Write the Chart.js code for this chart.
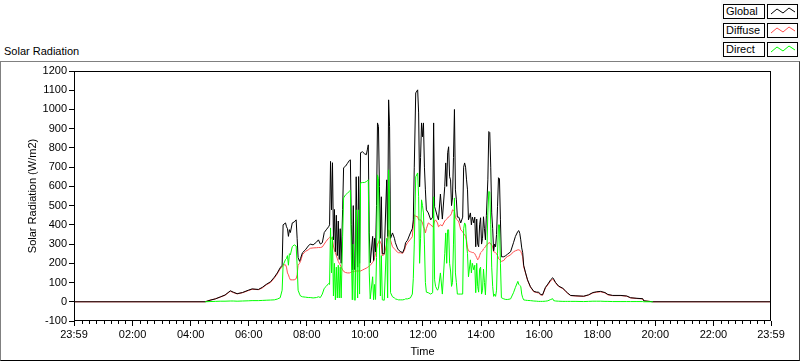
<!DOCTYPE html>
<html lang="en">
<head>
    <meta charset="UTF-8">
    <title>Solar Radiation</title>
    <script src="https://cdn.jsdelivr.net/npm/chart.js"></script>
    <style>
        body {
            margin: 0;
            padding: 0;
            background-color: #ffffff;
            font-family: "Liberation Sans", Arial, sans-serif;
            font-size: 11px;
            color: #000;
        }

        .wrap {
            position: relative;
            width: 800px;
            height: 361px;
            overflow: hidden;
        }

        .frame {
            position: absolute;
            left: 0;
            top: 61px;
            width: 798px;
            height: 298px;
            border-top: 1px solid #808080;
            border-left: 1px solid #808080;
            border-right: 1px solid #404040;
            border-bottom: 1px solid #000;
        }

        .caption {
            position: absolute;
            left: 4px;
            top: 45px;
            color: #000;
        }

        .legend {
            position: absolute;
            left: 721px;
            top: 0;
            width: 79px;
            height: 60px;
            background-color: #f7f7f7;
        }

        .legend .row {
            position: absolute;
            left: 2px;
            height: 15px;
        }

        .legend .name {
            position: absolute;
            left: 0;
            top: 0;
            width: 38px;
            height: 13px;
            line-height: 13px;
            padding-left: 2px;
            border: 1px solid #000;
            background-color: #fff;
            color: #000;
        }

        .legend .sym {
            position: absolute;
            left: 44px;
            top: 0;
            width: 29px;
            height: 13px;
            border: 1px solid #000;
            background-color: #fff;
        }

        canvas {
            position: absolute;
            left: 0;
            top: 0;
        }
    </style>
</head>
<body>

<div class="wrap">
    <div class="frame"></div>
    <div class="caption">Solar Radiation</div>
    <div class="legend" id="legend"></div>
    <canvas id="solarChart" width="800" height="361"></canvas>
</div>

<script>
    // measurement times (first 23:59 is the start of the day)
    const times = [
        '23:59','04:30','04:40','04:51','05:01','05:11','05:22','05:28','05:36','05:47',
        '05:59','06:07','06:20','06:28','06:36','06:45','06:53','06:59','07:05','07:09',
        '07:11','07:16','07:18','07:20','07:22','07:24','07:26','07:30','07:34','07:38',
        '07:40','07:42','07:45','07:47','07:51','07:57','08:03','08:07','08:13','08:20',
        '08:24','08:28','08:32','08:36','08:40','08:45','08:47','08:49','08:51','08:53',
        '08:55','08:57','08:59','09:01','09:03','09:05','09:07','09:09','09:11','09:14',
        '09:16','09:20','09:24','09:28','09:30','09:32','09:34','09:36','09:38','09:40',
        '09:42','09:45','09:47','09:49','09:51','09:55','09:59','10:03','10:05','10:07',
        '10:09','10:11','10:16','10:18','10:20','10:22','10:24','10:26','10:28','10:30',
        '10:32','10:34','10:36','10:40','10:45','10:47','10:49','10:51','10:53','10:57',
        '11:01','11:03','11:07','11:09','11:13','11:18','11:22','11:24','11:28','11:34',
        '11:38','11:40','11:42','11:45','11:49','11:51','11:53','11:55','11:57','11:59',
        '12:01','12:03','12:05','12:07','12:11','12:16','12:20','12:22','12:24','12:26',
        '12:30','12:32','12:36','12:40','12:45','12:47','12:49','12:51','12:53','12:55',
        '12:57','12:59','13:01','13:03','13:05','13:07','13:09','13:11','13:14','13:18',
        '13:22','13:24','13:26','13:28','13:30','13:32','13:34','13:38','13:40','13:42',
        '13:45','13:47','13:49','13:51','13:53','13:55','13:57','13:59','14:01','14:03',
        '14:05','14:07','14:09','14:11','14:14','14:16','14:18','14:20','14:22','14:24',
        '14:26','14:28','14:30','14:32','14:34','14:36','14:38','14:40','14:42','14:47',
        '14:51','14:55','15:01','15:07','15:11','15:16','15:18','15:20','15:22','15:24',
        '15:26','15:28','15:32','15:36','15:42','15:49','15:55','15:59','16:03','16:07',
        '16:13','16:18','16:24','16:28','16:30','16:34','16:40','16:49','16:55','16:59',
        '17:05','17:16','17:32','17:42','17:51','17:59','18:07','18:16','18:22','18:32',
        '18:49','19:01','19:09','19:22','19:34','19:36','19:55','23:59'
    ];

    const globalRad = [
        0,0,8,15,25,35,57,50,42,48,
        60,67,64,75,90,104,128,150,177,190,
        400,410,390,380,340,375,360,410,415,426,
        330,230,210,225,255,270,290,300,296,310,
        322,300,307,360,374,390,400,730,478,723,
        322,480,260,450,240,420,220,380,200,480,
        697,705,720,735,738,400,166,500,170,166,
        650,180,651,200,775,780,770,765,790,816,
        358,203,340,215,330,260,500,930,912,600,
        330,546,250,250,634,340,1050,910,330,358,
        330,307,280,270,262,255,280,307,320,358,
        380,426,700,1086,1102,982,598,750,930,858,
        930,700,582,478,462,426,440,930,494,478,
        440,426,560,430,600,722,600,775,806,650,
        634,500,540,750,1000,582,530,440,440,410,
        440,700,722,700,634,582,426,462,400,440,
        410,440,286,430,300,286,400,437,300,330,
        442,380,322,450,634,885,880,700,462,380,
        265,300,286,350,494,645,640,426,234,234,
        240,248,260,307,340,366,370,355,322,280,
        255,190,150,114,78,54,50,50,38,36,
        75,92,115,125,118,100,82,70,55,45,
        33,31,29,36,48,52,54,48,38,33,
        33,30,21,18,16,5,0,0
    ];

    const diffuseRad = [
        0,0,8,15,24,34,55,48,41,47,
        58,65,63,72,88,100,124,145,172,180,
        192,192,180,150,140,125,114,114,114,120,
        140,190,200,210,245,262,270,278,280,281,
        282,282,285,300,315,330,335,338,330,322,
        290,270,255,240,225,210,200,192,180,166,
        158,152,150,150,152,155,158,155,158,160,
        160,160,160,162,160,165,170,175,178,182,
        185,190,205,212,230,250,275,300,307,320,
        310,300,240,245,300,330,374,360,320,286,
        275,270,258,255,255,252,270,290,307,325,
        338,400,452,445,442,426,426,426,420,410,
        390,380,358,380,410,400,390,400,420,426,
        410,390,400,395,420,426,430,435,442,445,
        450,460,478,475,470,440,430,426,415,374,
        364,355,350,340,320,280,265,260,258,256,
        255,250,240,230,218,225,240,255,260,265,
        275,280,286,295,300,307,307,300,295,286,
        260,258,255,250,240,225,220,215,210,215,
        229,236,244,260,265,270,270,268,262,250,
        234,182,148,112,76,52,48,45,36,34,
        72,88,110,118,112,98,80,68,53,44,
        32,30,28,35,46,50,52,46,36,32,
        32,29,20,17,15,5,0,0
    ];

    const directRad = [
        null,0,1,2,3,3,4,4,3,4,
        5,6,6,7,8,9,10,14,21,60,
        190,220,225,240,190,250,244,287,296,290,
        190,60,40,30,26,24,22,22,20,22,
        26,22,40,70,80,95,90,384,150,338,
        30,200,10,180,20,190,20,180,20,338,
        540,556,565,574,580,240,10,300,10,8,
        478,20,478,40,618,620,620,625,630,634,
        150,15,130,10,90,12,230,660,640,300,
        30,240,10,8,330,20,686,560,47,26,
        20,15,12,10,10,10,12,15,15,20,
        40,120,300,650,670,546,200,330,530,500,
        462,300,100,50,47,40,47,546,114,80,
        60,70,150,40,250,358,200,374,374,200,
        160,80,100,300,540,150,100,40,40,40,
        40,380,410,400,300,250,130,218,150,200,
        166,190,47,200,80,50,170,180,40,60,
        170,100,36,160,462,574,570,400,180,80,
        28,40,28,60,250,400,400,200,21,15,
        12,12,15,47,75,106,90,85,80,40,
        21,10,8,7,6,4,3,2,2,2,
        3,5,12,16,6,4,3,2,2,2,
        2,2,1,2,3,3,3,2,2,1,
        1,1,1,1,1,0,0,null
    ];

    // x axis labels (every 2 hours) and y range
    const xTickLabels = ['23:59','02:00','04:00','06:00','08:00','10:00','12:00',
                         '14:00','16:00','18:00','20:00','22:00','23:59'];
    const yMin = -100, yMax = 1200, yStep = 100;

    const seriesNames = ['Global', 'Diffuse', 'Direct'];
    const seriesColors = ['#000000', '#ff4d4d', '#00ff00'];

    // minutes after midnight; the leading 23:59 belongs to the day before
    function toMinutes(t, i) {
        const parts = t.split(':').map(Number);
        const v = parts[0] * 60 + parts[1];
        return (i === 0 && v === 1439) ? -1 : v;
    }

    const xs = times.map(toMinutes);
    const xTickValues = xTickLabels.map(toMinutes);

    function points(values) {
        return values.map((v, i) => ({ x: xs[i], y: v }));
    }

    const font = { family: '"Liberation Sans", Arial, sans-serif', size: 11 };

    // chart frame and the small 15 minute ticks under the x axis
    const framePlugin = {
        id: 'frame',
        afterDraw(chart) {
            const ctx = chart.ctx;
            const a = chart.chartArea;
            const xScale = chart.scales.x;
            ctx.save();
            ctx.strokeStyle = '#000';
            ctx.lineWidth = 1;
            ctx.strokeRect(Math.round(a.left) + 0.5, Math.round(a.top) + 0.5,
                Math.round(a.right - a.left) - 1, Math.round(a.bottom - a.top) - 1);
            ctx.beginPath();
            for (let m = 15; m < 1439; m += 15) {
                if (m % 120 === 0) continue;
                const px = Math.round(xScale.getPixelForValue(m)) + 0.5;
                ctx.moveTo(px, Math.round(a.bottom));
                ctx.lineTo(px, Math.round(a.bottom) + 3);
            }
            ctx.stroke();
            ctx.restore();
        }
    };

    const chartConfig = {
        type: 'line',
        data: {
            datasets: [
                { label: seriesNames[2], data: points(directRad), borderColor: seriesColors[2], order: 0 },
                { label: seriesNames[0], data: points(globalRad), borderColor: seriesColors[0], order: 1 },
                { label: seriesNames[1], data: points(diffuseRad), borderColor: seriesColors[1], order: 2 }
            ]
        },
        options: {
            responsive: false,
            animation: false,
            events: [],
            datasets: {
                line: { borderWidth: 1, pointRadius: 0, tension: 0, fill: false, spanGaps: false }
            },
            layout: { padding: { top: 71, right: 29, left: 0, bottom: 0 } },
            plugins: {
                legend: { display: false },
                tooltip: { enabled: false }
            },
            scales: {
                x: {
                    type: 'linear',
                    min: -1,
                    max: 1439,
                    afterBuildTicks: (scale) => {
                        scale.ticks = xTickValues.map(v => ({ value: v }));
                    },
                    afterFit: (scale) => { scale.height = 40; },
                    ticks: {
                        autoSkip: false,
                        maxRotation: 0,
                        padding: 2,
                        color: '#000',
                        font: font,
                        callback: (value) => {
                            const idx = xTickValues.indexOf(value);
                            return idx >= 0 ? xTickLabels[idx] : '';
                        }
                    },
                    grid: { drawOnChartArea: false, tickLength: 5, color: '#000' },
                    border: { display: false },
                    title: {
                        display: true,
                        text: 'Time',
                        color: '#000',
                        font: font,
                        padding: { top: 0, bottom: 2 }
                    }
                },
                y: {
                    min: yMin,
                    max: yMax,
                    afterFit: (scale) => { scale.width = 74; },
                    ticks: {
                        stepSize: yStep,
                        padding: 2,
                        color: '#000',
                        font: font,
                        callback: (value) => String(value)
                    },
                    grid: { drawOnChartArea: false, tickLength: 5, color: '#000' },
                    border: { display: false },
                    title: {
                        display: true,
                        text: 'Solar Radiation (W/m2)',
                        color: '#000',
                        font: font,
                        padding: { top: 26, bottom: 0 }
                    }
                }
            }
        },
        plugins: [framePlugin]
    };

    // LabVIEW style plot legend
    const legendBox = document.getElementById('legend');
    seriesNames.forEach((name, i) => {
        const row = document.createElement('div');
        row.className = 'row';
        row.style.top = (4 + i * 19) + 'px';
        row.innerHTML =
            '<div class="name">' + name + '</div>' +
            '<div class="sym"><svg width="29" height="13">' +
            '<polyline points="3,9 9,4 15,8 21,3 27,7" fill="none" stroke="' +
            seriesColors[i] + '" stroke-width="1"/></svg></div>';
        legendBox.appendChild(row);
    });

    new Chart(document.getElementById('solarChart'), chartConfig);
</script>
</body>
</html>
